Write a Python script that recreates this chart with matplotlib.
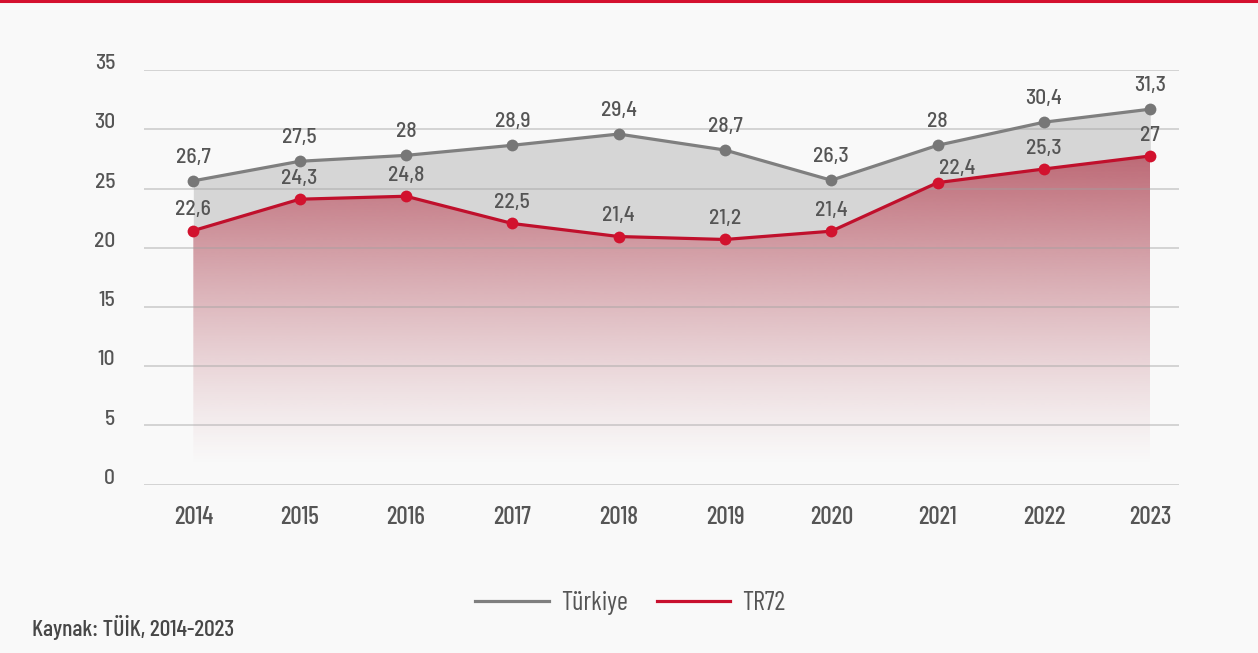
import numpy as np
import matplotlib
matplotlib.use('Agg')
import matplotlib.pyplot as plt
from matplotlib.lines import Line2D
from matplotlib.transforms import ScaledTranslation

plt.rcParams['font.family'] = ['Barlow Semi Condensed', 'Roboto Condensed', 'DejaVu Sans']
plt.rcParams['font.weight'] = 500
narrow = ['Barlow Condensed', 'Roboto Condensed', 'DejaVu Sans']

years = ['2014', '2015', '2016', '2017', '2018', '2019', '2020', '2021', '2022', '2023']
turkiye = [25.65, 27.3, 27.8, 28.65, 29.6, 28.25, 25.7, 28.65, 30.6, 31.7]
tr72 = [21.45, 24.1, 24.35, 22.05, 20.95, 20.7, 21.4, 25.5, 26.65, 27.75]
turkiye_labels = ['26,7', '27,5', '28', '28,9', '29,4', '28,7', '26,3', '28', '30,4', '31,3']
tr72_labels = ['22,6', '24,3', '24,8', '22,5', '21,4', '21,2', '21,4', '22,4', '25,3', '27']
y_ticks = [0, 5, 10, 15, 20, 25, 30, 35]

bg = '#f9f9f9'
gray = '#7f7f7f'
red = '#c8102e'
text_color = '#555555'

x = np.arange(len(years))

fig = plt.figure(figsize=(12.58, 6.53), dpi=100, facecolor=bg)
ax = fig.add_axes([0.1142, 0.2577, 0.823, 0.635])
ax.set_facecolor(bg)
ax.set_xlim(-0.467, 9.27)
ax.set_ylim(0, 35)

# grey band between the two series
ax.fill_between(x, tr72, turkiye, color='#d6d6d6', linewidth=0, zorder=1)

# red gradient under TR72, fading towards the bottom
top_val = 28.0
vals = np.linspace(0, top_val, 400)
alpha = 0.74 * np.clip((vals - 1.5) / 26.2, 0, None) ** 1.25
grad = np.zeros((len(vals), 1, 4))
grad[..., 0] = 0xa8 / 255
grad[..., 1] = 0x38 / 255
grad[..., 2] = 0x48 / 255
grad[:, 0, 3] = np.clip(alpha, 0, 1)
im = ax.imshow(grad, extent=(x[0], x[-1], 0, top_val), origin='lower',
               aspect='auto', interpolation='bilinear', zorder=1.5)
poly = ax.fill_between(x, 0, tr72, facecolor='none', edgecolor='none')
im.set_clip_path(poly.get_paths()[0], transform=ax.transData)

# grid lines on top of the fills
for yv in y_ticks:
    ax.axhline(yv, color='#a0a0a0', alpha=0.45, linewidth=1.3, zorder=2)

ax.plot(x, turkiye, color=gray, linewidth=2.3, marker='o', markersize=8.5,
        markerfacecolor='#777777', markeredgewidth=0, zorder=3)
ax.plot(x, tr72, color='#c0102c', linewidth=2.3, marker='o', markersize=8.5,
        markerfacecolor='#d2122e', markeredgewidth=0, zorder=4)

# data labels
for i, lab in enumerate(turkiye_labels):
    ax.annotate(lab, (x[i], turkiye[i]), xytext=(0, 17), textcoords='offset points',
                ha='center', va='center', fontsize=15.5, color=text_color, zorder=5)
for i, lab in enumerate(tr72_labels):
    off = (14, 10) if years[i] == '2021' else (0, 15)
    ax.annotate(lab, (x[i], tr72[i]), xytext=off, textcoords='offset points',
                ha='center', va='center', fontsize=15.5, color=text_color, zorder=5)

# axes styling
for s in ax.spines.values():
    s.set_visible(False)
ax.set_xticks(x)
ax.set_xticklabels(years, fontsize=18, color=text_color, family=narrow)
ax.set_yticks(y_ticks)
ax.set_yticklabels([str(v) for v in y_ticks], fontsize=15.5, color=text_color)
ax.tick_params(axis='x', length=0, pad=15)
ax.tick_params(axis='y', length=0, pad=20.5)
shift = ScaledTranslation(0, 6 / 72, fig.dpi_scale_trans)
for lab in ax.get_yticklabels():
    lab.set_transform(lab.get_transform() + shift)

# legend
handles = [Line2D([], [], color=gray, linewidth=2.3),
           Line2D([], [], color=red, linewidth=2.3)]
fig.legend(handles, ['Türkiye', 'TR72'], loc='center', bbox_to_anchor=(0.501, 0.0766),
           ncol=2, frameon=False, handlelength=2.8, handletextpad=0.45,
           columnspacing=1.1, labelcolor=text_color,
           prop={'family': narrow, 'size': 19, 'weight': 400})

# source note
fig.text(0.0254, 0.0398, 'Kaynak: TÜİK, 2014-2023', fontsize=17, color='#474747',
         ha='left', va='center', family=narrow)

# red rule at the top
fig.add_artist(Line2D([0, 1], [0.998, 0.998], color='#d4102f', linewidth=2.2,
                      transform=fig.transFigure))

plt.savefig('out.png', dpi=100, facecolor=bg)
